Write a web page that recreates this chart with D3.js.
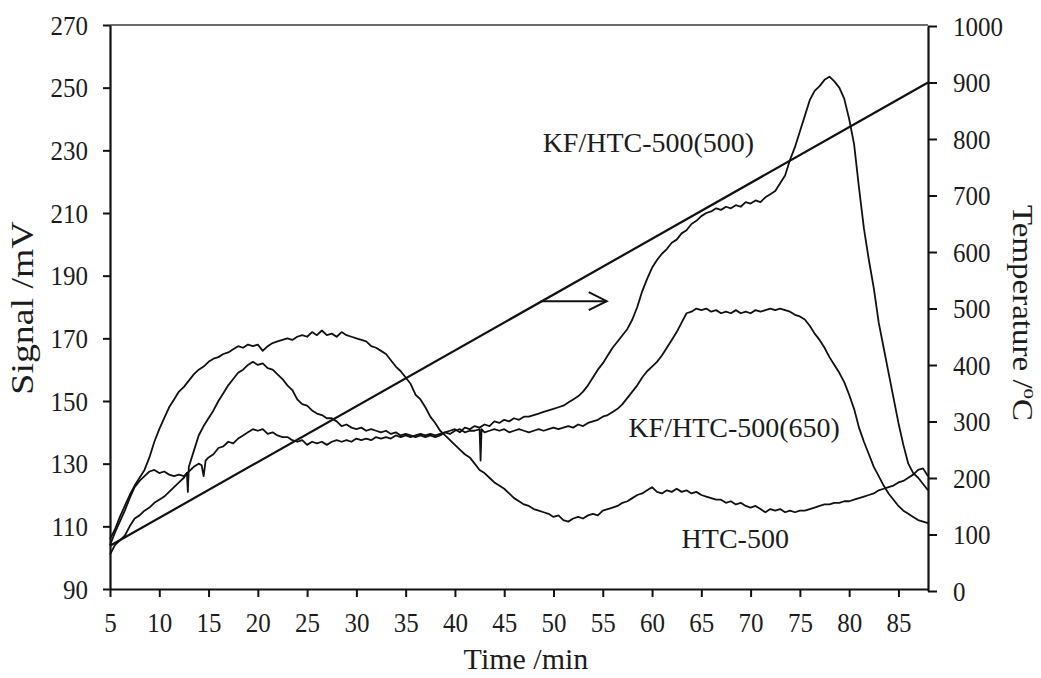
<!DOCTYPE html>
<html><head><meta charset="utf-8">
<script src="https://cdn.jsdelivr.net/npm/d3@7"></script>
<style>
body{margin:0;background:#fff}
text{font-family:"Liberation Serif","Times New Roman",serif;fill:#1c1c1c}
</style>
</head><body>
<svg id="chart" width="1041" height="678"></svg>
<script>
// ---------- data ----------
const timeTicks = [5,10,15,20,25,30,35,40,45,50,55,60,65,70,75,80,85];
const signalTicks = [90,110,130,150,170,190,210,230,250,270];
const tempTicks = [0,100,200,300,400,500,600,700,800,900,1000];

// [time /min, signal /mV]
const htc500 = [[5,106],[5.5,109],[6,113],[6.5,116.5],[7,120],[7.5,123],[8,125.5],[8.5,128],[9,132],[9.5,137],[10,141],[10.5,144.5],[11,148],[11.5,150.5],[12,153],[12.5,154.5],[13,156.5],[13.5,158.5],[14,160],[14.5,161],[15,162.5],[15.5,163.5],[16,164],[16.5,165],[17,165.5],[17.5,166.5],[18,167.5],[18.5,167],[19,168],[19.5,167.5],[20,168],[20.5,166],[21,167.5],[21.5,168.5],[22,169],[22.5,169.5],[23,170],[23.5,169.5],[24,170.5],[24.5,171],[25,170.5],[25.5,172],[26,171],[26.5,172.5],[27,171],[27.5,171.5],[28,170.5],[28.5,172],[29,171],[29.5,170.5],[30,170],[30.5,169.5],[31,169],[31.5,167.5],[32,167],[32.5,166],[33,165],[33.5,163],[34,161],[34.5,159.5],[35,157.5],[35.5,155.5],[36,152],[36.5,150.5],[37,148],[37.5,145],[38,143],[38.5,140.5],[39,139],[39.5,137.5],[40,136],[40.5,134.5],[41,133],[41.5,132],[42,130],[42.5,128],[43,127],[43.5,125.5],[44,124],[44.5,123],[45,122],[45.5,120.5],[46,119],[46.5,118],[47,117],[47.5,116.5],[48,115.5],[48.5,115],[49,114.5],[49.5,114],[50,113],[50.5,113.5],[51,112],[51.5,111.5],[52,112.5],[52.5,113],[53,112.5],[53.5,113.5],[54,114],[54.5,113.5],[55,115],[55.5,115.5],[56,116],[56.5,116.5],[57,117.5],[57.5,118],[58,119],[58.5,120],[59,120.5],[59.5,121.5],[60,122.5],[60.5,121],[61,120.5],[61.5,121.5],[62,121],[62.5,122],[63,121],[63.5,121.5],[64,120.5],[64.5,121],[65,120],[65.5,119.5],[66,119],[66.5,118.5],[67,118.5],[67.5,117.5],[68,118],[68.5,117],[69,117.5],[69.5,116.5],[70,116],[70.5,116.5],[71,115.5],[71.5,114.5],[72,115.5],[72.5,115],[73,115.5],[73.5,114.5],[74,115],[74.5,114.5],[75,115],[75.5,115],[76,115.5],[76.5,116],[77,116.5],[77.5,117],[78,117],[78.5,117.5],[79,117.5],[79.5,118],[80,118],[80.5,118.5],[81,119],[81.5,119.5],[82,120],[82.5,120.5],[83,121.5],[83.5,122],[84,122.5],[84.5,123],[85,124],[85.5,124.5],[86,125.5],[86.5,126.5],[87,128],[87.5,128.5],[88,126]];

const kfHtc500_500 = [[5,101],[5.5,104],[6,105.5],[6.5,107],[7,110],[7.5,112.5],[8,113.5],[8.5,115],[9,116],[9.5,117.5],[10,118.5],[10.5,119.5],[11,121],[11.5,122.5],[12,124],[12.5,125.5],[12.8,127],[12.9,121],[13,129],[13.5,134],[14,139],[14.5,142],[15,144.5],[15.5,147],[16,150],[16.5,152.5],[17,155],[17.5,157],[18,159],[18.5,160],[19,161.5],[19.5,162.5],[20,161.5],[20.5,162],[21,160.5],[21.5,160],[22,158.5],[22.5,157],[23,155],[23.5,153.5],[24,150.5],[24.5,149],[25,148.5],[25.5,147],[26,146],[26.5,145.5],[27,144.5],[27.5,144.5],[28,143.5],[28.5,142],[29,142.5],[29.5,141.5],[30,141],[30.5,141.5],[31,140.5],[31.5,141],[32,140.5],[32.5,140],[33,140.5],[33.5,139.5],[34,140],[34.5,139],[35,139.5],[35.5,139],[36,138.5],[36.5,139],[37,138.5],[37.5,139],[38,138.5],[38.5,139],[39,140],[39.5,140.5],[40,141],[40.5,140],[41,141.5],[41.5,141],[42,142],[42.5,141.5],[43,142.5],[43.5,142],[44,143.5],[44.5,143],[45,144],[45.5,143.5],[46,144.5],[46.5,144],[47,145],[47.5,145],[48,145.5],[48.5,146],[49,146.5],[49.5,147],[50,147.5],[50.5,148],[51,148.5],[51.5,149.5],[52,150.5],[52.5,151.5],[53,153],[53.5,155],[54,157.5],[54.5,160],[55,162],[55.5,164.5],[56,167],[56.5,169],[57,171],[57.5,173],[58,176],[58.5,180],[59,185],[59.5,189],[60,192.5],[60.5,195],[61,197],[61.5,198.5],[62,200.5],[62.5,201.5],[63,203.5],[63.5,204.5],[64,206.5],[64.5,207.5],[65,209],[65.5,210],[66,210.5],[66.5,211.5],[67,211],[67.5,212],[68,211.5],[68.5,212.5],[69,212],[69.5,213.5],[70,213],[70.5,214],[71,213.5],[71.5,215],[72,216],[72.5,217],[73,219.5],[73.5,222],[74,227],[74.5,231],[75,236],[75.5,241],[76,246],[76.5,249],[77,250.5],[77.5,252.5],[78,253.5],[78.5,252],[79,250],[79.5,246.5],[80,240],[80.5,232],[81,218],[81.5,205],[82,195],[82.5,186],[83,175],[83.5,167],[84,159],[84.5,151],[85,143],[85.5,136],[86,130],[86.5,127],[87,125.5],[87.5,123.5],[88,121.5]];

const kfHtc500_650 = [[5,104],[5.5,108],[6,111.5],[6.5,115],[7,119],[7.5,122.5],[8,124.5],[8.5,126],[9,127.5],[9.5,128],[10,127],[10.5,127.5],[11,126.5],[11.5,126],[12,126.5],[12.5,126],[13,127.5],[13.5,129],[14,130],[14.3,129.5],[14.5,126],[14.7,131],[15,132],[15.5,133],[16,135],[16.5,135.5],[17,137],[17.5,136.5],[18,138],[18.5,139],[19,140],[19.5,141],[20,140.5],[20.5,141],[21,139.5],[21.5,140],[22,139],[22.5,138.5],[23,138.5],[23.5,137.5],[24,137],[24.5,137.5],[25,136],[25.5,137],[26,136.5],[26.5,137],[27,136],[27.5,137],[28,137.5],[28.5,137],[29,137.5],[29.5,137],[30,138],[30.5,137.5],[31,138],[31.5,137.5],[32,138.5],[32.5,138],[33,138.5],[33.5,138],[34,139],[34.5,138.5],[35,139],[35.5,138.5],[36,139],[36.5,139.5],[37,139],[37.5,139.5],[38,139],[38.5,139.5],[39,140],[39.5,139.5],[40,140.5],[40.5,141],[41,140],[41.5,140.5],[42,140.5],[42.5,141],[42.6,131],[42.7,141],[43,140],[43.5,140.5],[44,141],[44.5,140.5],[45,141],[45.5,140],[46,140.5],[46.5,141],[47,140.5],[47.5,140],[48,140.5],[48.5,141],[49,140.5],[49.5,141],[50,141.5],[50.5,141],[51,141.5],[51.5,142],[52,141.5],[52.5,142.5],[53,142],[53.5,143],[54,143.5],[54.5,144],[55,145],[55.5,145.5],[56,146.5],[56.5,147.5],[57,149],[57.5,151],[58,153],[58.5,155],[59,157.5],[59.5,159.5],[60,161],[60.5,162.5],[61,164.5],[61.5,167],[62,169.5],[62.5,172],[63,175],[63.5,178],[64,178.5],[64.5,179.5],[65,179],[65.5,179.5],[66,178.5],[66.5,179],[67,178],[67.5,178.5],[68,178],[68.5,179],[69,178],[69.5,178.5],[70,178],[70.5,179],[71,178.5],[71.5,179],[72,179.5],[72.5,179],[73,179.5],[73.5,179],[74,178.5],[74.5,177.5],[75,177],[75.5,176],[76,174],[76.5,171.5],[77,169.5],[77.5,167],[78,164],[78.5,161.5],[79,159],[79.5,156],[80,152],[80.5,147.5],[81,141.5],[81.5,137],[82,133],[82.5,129],[83,126],[83.5,123],[84,120.5],[84.5,118.5],[85,116.5],[85.5,115],[86,114],[86.5,113],[87,112],[87.5,111.5],[88,111]];

// [time /min, temperature /°C]
const temperature = [[5,80],[88,900]];

// annotations: [time, value on their axis]
const seriesLabels = [
  {text:"KF/HTC-500(500)", t:48.9, v:229.5},
  {text:"KF/HTC-500(650)", t:57.6, v:138.5},
  {text:"HTC-500", t:63.0, v:103.1}
];
const arrowFrom = [48.7, 513]; // time, °C
const arrowTo = [55.4, 513];

// ---------- drawing ----------
const svg = d3.select("#chart");
const x = d3.scaleLinear().domain([5,88]).range([110,928]);
const yL = d3.scaleLinear().domain([90,270]).range([589,25]);
const yR = d3.scaleLinear().domain([0,1000]).range([591,26]);
const K = 1.13; // vertical stretch of tick text

// top frame line
svg.append("line").attr("x1",x(5)).attr("x2",x(88)).attr("y1",yL(270)).attr("y2",yL(270))
  .attr("stroke","#3a3a3a").attr("stroke-width",1.6);

function styleAxis(g){
  g.selectAll("path.domain").attr("stroke","#111").attr("stroke-width",2.2);
  g.selectAll(".tick line").attr("stroke","#111").attr("stroke-width",2);
  g.selectAll(".tick text").attr("font-size",25).attr("fill","#1c1c1c")
    .attr("font-family","'Liberation Serif','Times New Roman',serif");
}
const fmt = d3.format("d");

const gx = svg.append("g").attr("transform",`translate(0,${yL(90)})`)
  .call(d3.axisBottom(x).tickValues(timeTicks).tickFormat(fmt).tickSize(8).tickSizeOuter(0));
styleAxis(gx);
gx.selectAll(".tick text").attr("dy",null).attr("y",43/K).attr("transform",`scale(1,${K})`);

const gy = svg.append("g").attr("transform",`translate(${x(5)},0)`)
  .call(d3.axisLeft(yL).tickValues(signalTicks).tickFormat(fmt).tickSize(7).tickPadding(15).tickSizeOuter(0));
styleAxis(gy);
gy.selectAll(".tick text").attr("transform",`scale(1,${K})`);

const gr = svg.append("g").attr("transform",`translate(${x(88)},0)`)
  .call(d3.axisRight(yR).tickValues(tempTicks).tickFormat(fmt).tickSize(9).tickPadding(16).tickSizeOuter(0));
styleAxis(gr);
gr.selectAll(".tick text").attr("transform",`scale(1,${K})`);

// axis titles
svg.append("text").attr("x",526).attr("y",669)
  .attr("text-anchor","middle").attr("font-size",30).text("Time /min");
svg.append("text").attr("transform","translate(33,308) rotate(-90) scale(1.22,1)")
  .attr("text-anchor","middle").attr("font-size",31).text("Signal /mV");
const tt = svg.append("text").attr("transform","translate(1013,313) rotate(90) scale(1.1,1)")
  .attr("text-anchor","middle").attr("font-size",30);
tt.append("tspan").text("Temperature /");
tt.append("tspan").attr("font-size",19).attr("dy",-11).text("o");
tt.append("tspan").attr("dy",11).text("C");

// series lines
const lineS = d3.line().x(d=>x(d[0])).y(d=>yL(d[1]));
[htc500, kfHtc500_500, kfHtc500_650].forEach(s=>{
  svg.append("path").datum(s).attr("d",lineS).attr("fill","none")
    .attr("stroke","#111").attr("stroke-width",1.8).attr("stroke-linejoin","round");
});
const lineT = d3.line().x(d=>x(d[0])).y(d=>yR(d[1]));
svg.append("path").datum(temperature).attr("d",lineT).attr("fill","none")
  .attr("stroke","#111").attr("stroke-width",2.2);

// arrow
const ax1 = x(arrowFrom[0]), ay = yR(arrowFrom[1]), ax2 = x(arrowTo[0]);
svg.append("line").attr("x1",ax1).attr("x2",ax2).attr("y1",ay).attr("y2",ay)
  .attr("stroke","#111").attr("stroke-width",2);
svg.append("path").attr("d",`M${ax2-18},${ay-9} L${ax2},${ay} L${ax2-18},${ay+9}`)
  .attr("fill","none").attr("stroke","#111").attr("stroke-width",2);

// series labels
seriesLabels.forEach(l=>{
  svg.append("text").attr("x",x(l.t)).attr("y",yL(l.v)).attr("font-size",28)
    .attr("fill","#2a2a2a").text(l.text);
});
</script>
</body></html>
